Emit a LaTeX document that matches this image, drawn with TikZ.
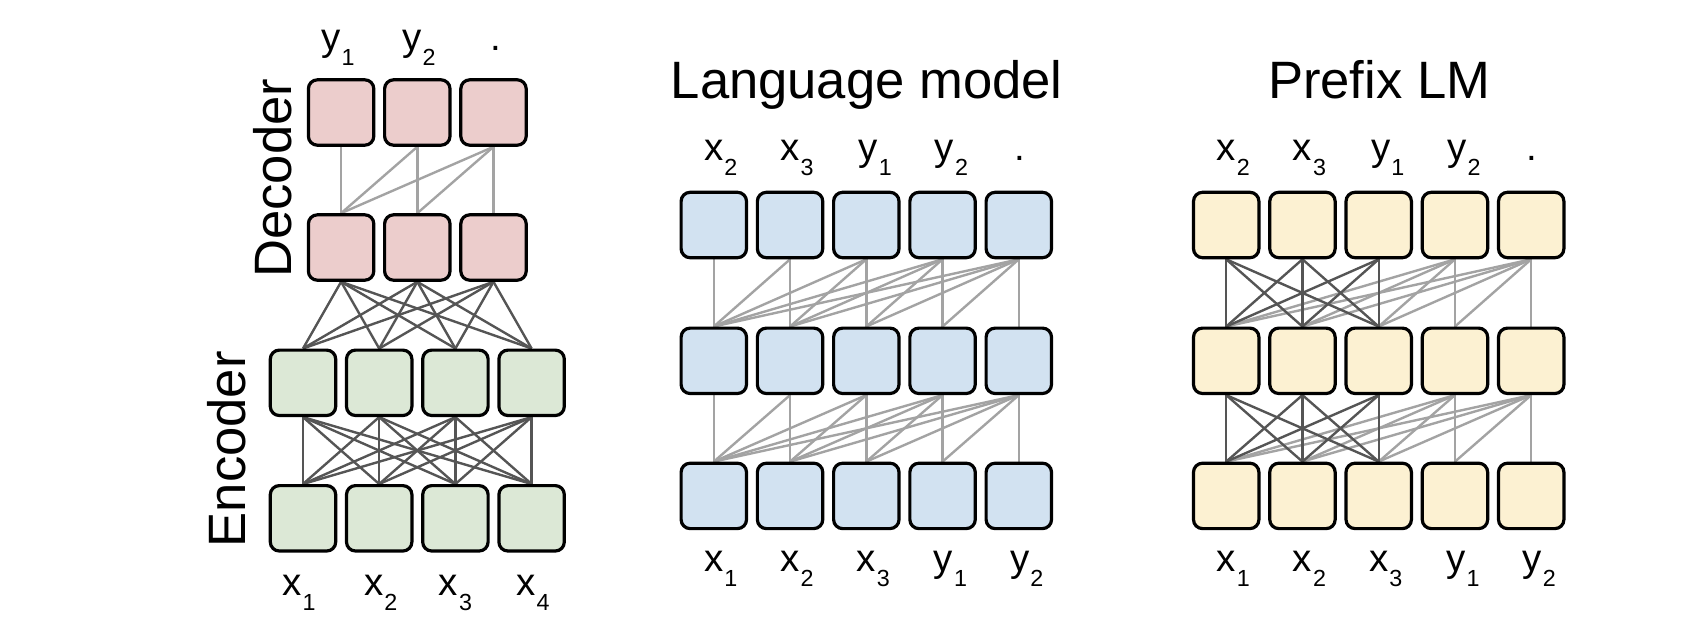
\documentclass[tikz,border=0pt]{standalone}
\usepackage{fontspec}
\setmainfont{Liberation Sans}
\pgfdeclarelayer{background}
\pgfsetlayers{background,main}
\definecolor{decfill}{HTML}{ECCDCC}
\definecolor{encfill}{HTML}{DCE8D6}
\definecolor{lmfill}{HTML}{D2E2F1}
\definecolor{pfxfill}{HTML}{FCF1D2}
\definecolor{darkline}{HTML}{555555}
\definecolor{lightline}{HTML}{A3A3A3}
\newcommand\mysub[1]{\raisebox{-15pt}{\fontsize{23.3}{25}\selectfont\kern1pt #1}}
\newcommand\hangsub[1]{\rlap{\mysub{#1}}}
\tikzset{
  cell/.style={draw=black, line width=3.2pt, rounded corners=9pt,
    minimum width=65.4pt, minimum height=65.4pt, inner sep=0pt},
  darkedge/.style={draw=darkline, line width=2.4pt},
  lightedge/.style={draw=lightline, line width=2.4pt},
  lbl/.style={anchor=base, inner sep=0pt, font=\fontsize{38.5}{40}\selectfont},
  ttl/.style={anchor=base, inner sep=0pt, font=\fontsize{52.6}{60}\selectfont},
}
\begin{document}
\begin{tikzpicture}[x=1pt,y=-1pt]
\useasboundingbox (0,0) rectangle (1704,638);
% ---------- Encoder-decoder ----------
\foreach \i in {1,...,4} {
  \node[cell, fill=encfill] (ea\i) at ({303+76.2*(\i-1)},518.3) {};
  \node[cell, fill=encfill] (eb\i) at ({303+76.2*(\i-1)},382.8) {};
}
\foreach \i in {1,...,3} {
  \node[cell, fill=decfill] (da\i) at ({341.1+76.2*(\i-1)},247.5) {};
  \node[cell, fill=decfill] (db\i) at ({341.1+76.2*(\i-1)},112.5) {};
}
\begin{pgfonlayer}{background}
\foreach \i in {1,...,4} \foreach \j in {1,...,4} \draw[darkedge] (ea\i.north) -- (eb\j.south);
\foreach \i in {1,...,4} \foreach \j in {1,...,3} \draw[darkedge] (eb\i.north) -- (da\j.south);
\foreach \i in {1,...,3} \foreach \j in {\i,...,3} \draw[lightedge] (da\i.north) -- (db\j.south);
\end{pgfonlayer}
\node[lbl, rotate=90, font=\fontsize{52.6}{60}\selectfont] (dectxt) at (291.7,178.3) {Decoder};
\node[lbl, rotate=90, font=\fontsize{52.6}{60}\selectfont] (enctxt) at (245.7,449.2) {Encoder};
\node[lbl] (dy1) at (338,50) {y\mysub{1}};
\node[lbl] (dy2) at (419,50) {y\mysub{2}};
\node[lbl] (ddot) at (496,50) {.};
\node[lbl] (ex1) at (299,595) {x\mysub{1}};
\node[lbl] (ex2) at (380.8,595) {x\mysub{2}};
\node[lbl] (ex3) at (455.5,595) {x\mysub{3}};
\node[lbl] (ex4) at (533,595) {x\mysub{4}};
% ---------- Language model ----------
\node[ttl] (lmtitle) at (866.7,98.3) {Language model};
\foreach \i in {1,...,5} {
  \node[cell, fill=lmfill] (la\i) at ({713.8+76.25*(\i-1)},495.9) {};
  \node[cell, fill=lmfill] (lb\i) at ({713.8+76.25*(\i-1)},360.8) {};
  \node[cell, fill=lmfill] (lc\i) at ({713.8+76.25*(\i-1)},225) {};
}
\begin{pgfonlayer}{background}
\foreach \i in {1,...,5} \foreach \j in {\i,...,5} {
  \draw[lightedge] (la\i.north) -- (lb\j.south);
  \draw[lightedge] (lb\i.north) -- (lc\j.south);
}
\end{pgfonlayer}
\node[lbl] (lt1) at (713.8,160) {x\hangsub{2}};
\node[lbl] (lt2) at (790.05,160) {x\hangsub{3}};
\node[lbl] (lt3) at (868.3,160) {y\hangsub{1}};
\node[lbl] (lt4) at (944.5,160) {y\hangsub{2}};
\node[lbl] (lt5) at (1019.8,160) {.};
\node[lbl] (lbo1) at (713.8,571.7) {x\hangsub{1}};
\node[lbl] (lbo2) at (790.05,571.7) {x\hangsub{2}};
\node[lbl] (lbo3) at (866.3,571.7) {x\hangsub{3}};
\node[lbl] (lbo4) at (943.5,571.7) {y\hangsub{1}};
\node[lbl] (lbo5) at (1019.8,571.7) {y\hangsub{2}};
% ---------- Prefix LM ----------
\node[ttl] (pftitle) at (1379.2,98.3) {Prefix LM};
\foreach \i in {1,...,5} {
  \node[cell, fill=pfxfill] (pa\i) at ({1226.2+76.25*(\i-1)},495.9) {};
  \node[cell, fill=pfxfill] (pb\i) at ({1226.2+76.25*(\i-1)},360.8) {};
  \node[cell, fill=pfxfill] (pc\i) at ({1226.2+76.25*(\i-1)},225) {};
}
\begin{pgfonlayer}{background}
\foreach \i in {1,...,5} {
  \pgfmathtruncatemacro\jst{max(\i,4)}
  \foreach \j in {\jst,...,5} {
    \draw[lightedge] (pa\i.north) -- (pb\j.south);
    \draw[lightedge] (pb\i.north) -- (pc\j.south);
  }
}
\foreach \i in {1,2,3} \foreach \j in {1,2,3} {
  \draw[darkedge] (pa\i.north) -- (pb\j.south);
  \draw[darkedge] (pb\i.north) -- (pc\j.south);
}
\end{pgfonlayer}
\node[lbl] (pt1) at (1226.2,160) {x\hangsub{2}};
\node[lbl] (pt2) at (1302.45,160) {x\hangsub{3}};
\node[lbl] (pt3) at (1380.7,160) {y\hangsub{1}};
\node[lbl] (pt4) at (1456.9,160) {y\hangsub{2}};
\node[lbl] (pt5) at (1532.2,160) {.};
\node[lbl] (pbo1) at (1226.2,571.7) {x\hangsub{1}};
\node[lbl] (pbo2) at (1302.45,571.7) {x\hangsub{2}};
\node[lbl] (pbo3) at (1378.7,571.7) {x\hangsub{3}};
\node[lbl] (pbo4) at (1455.9,571.7) {y\hangsub{1}};
\node[lbl] (pbo5) at (1532.2,571.7) {y\hangsub{2}};
\end{tikzpicture}
\end{document}
